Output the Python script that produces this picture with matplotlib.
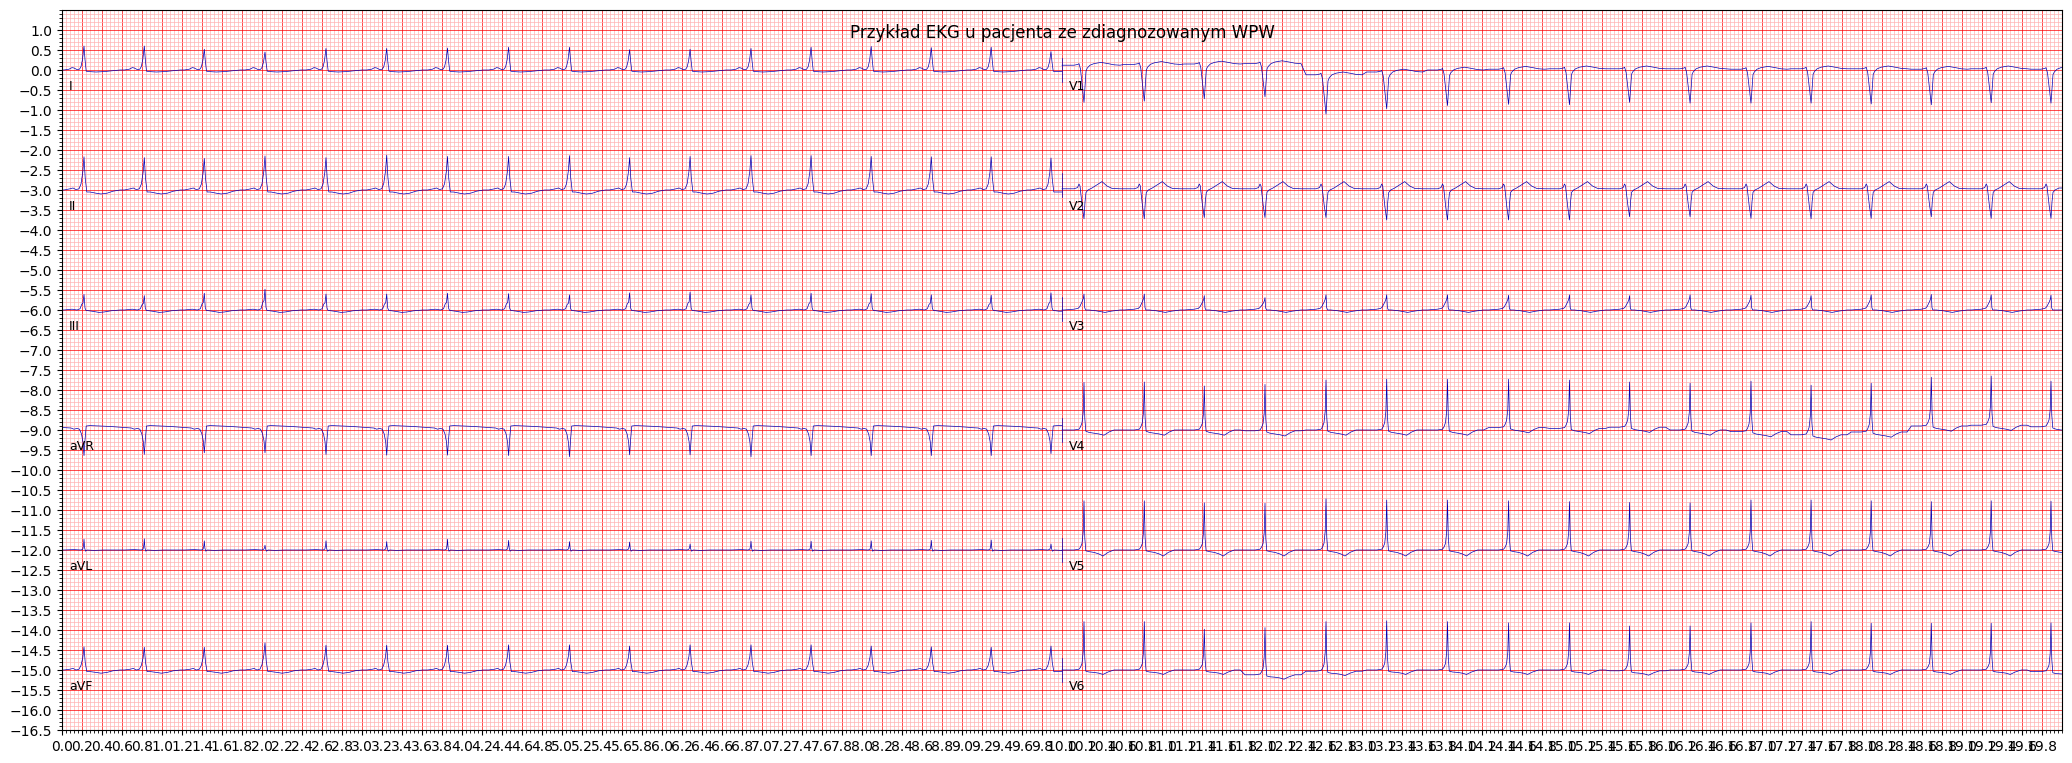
import numpy as np
import matplotlib
matplotlib.use('Agg')
import matplotlib.pyplot as plt
from matplotlib.ticker import AutoMinorLocator

title = 'Przykład EKG u pacjenta ze zdiagnozowanym WPW'
lead_names = ['I', 'II', 'III', 'aVR', 'aVL', 'aVF', 'V1', 'V2', 'V3', 'V4', 'V5', 'V6']
secs = 10.0
columns = 2
row_height = 6

# QRS times (s), shared by all leads
beat_times = [0.22, 0.823, 1.423, 2.03, 2.64, 3.247, 3.855, 4.466, 5.075, 5.676,
              6.281, 6.89, 7.491, 8.092, 8.693, 9.292, 9.89]

# per-beat QRS extreme (mV, relative to the lead's row line)
peak_I   = [0.60, 0.60, 0.52, 0.45, 0.54, 0.54, 0.55, 0.57, 0.57, 0.51, 0.52, 0.54, 0.57, 0.59, 0.56, 0.57, 0.46]
peak_II  = [0.83, 0.81, 0.79, 0.85, 0.81, 0.87, 0.84, 0.84, 0.86, 0.81, 0.84, 0.86, 0.86, 0.84, 0.83, 0.83, 0.80]
peak_III = [0.39, 0.36, 0.42, 0.52, 0.40, 0.40, 0.42, 0.41, 0.38, 0.43, 0.45, 0.38, 0.42, 0.41, 0.38, 0.37, 0.43]
peak_aVR = [-0.64, -0.61, -0.57, -0.57, -0.61, -0.63, -0.63, -0.64, -0.67, -0.62, -0.62, -0.67, -0.64, -0.64, -0.64, -0.64, -0.59]
peak_aVL = [0.27, 0.28, 0.23, 0.12, 0.23, 0.21, 0.27, 0.24, 0.21, 0.20, 0.15, 0.22, 0.22, 0.23, 0.24, 0.25, 0.15]
peak_aVF = [0.58, 0.57, 0.57, 0.68, 0.62, 0.62, 0.62, 0.63, 0.63, 0.60, 0.63, 0.63, 0.63, 0.60, 0.58, 0.57, 0.60]
peak_V1  = [-0.81, -0.78, -0.72, -0.67, -1.10, -0.97, -0.89, -0.86, -0.87, -0.81, -0.83, -0.83, -0.83, -0.85, -0.87, -0.82, -0.83]
peak_V2  = [-0.72, -0.72, -0.69, -0.69, -0.69, -0.75, -0.75, -0.75, -0.75, -0.67, -0.67, -0.71, -0.72, -0.71, -0.67, -0.71, -0.71]
peak_V3  = [0.40, 0.40, 0.36, 0.31, 0.38, 0.38, 0.38, 0.37, 0.38, 0.36, 0.38, 0.37, 0.36, 0.38, 0.39, 0.38, 0.37]
peak_V4  = [1.19, 1.20, 1.10, 1.14, 1.25, 1.27, 1.27, 1.27, 1.25, 1.20, 1.17, 1.22, 1.12, 1.17, 1.32, 1.35, 1.22]
peak_V5  = [1.23, 1.23, 1.18, 1.17, 1.28, 1.25, 1.25, 1.23, 1.21, 1.19, 1.18, 1.25, 1.25, 1.23, 1.21, 1.23, 1.22]
peak_V6  = [1.21, 1.21, 1.02, 1.06, 1.21, 1.23, 1.21, 1.18, 1.18, 1.10, 1.10, 1.18, 1.21, 1.17, 1.17, 1.17, 1.18]

# per-beat baseline level (mV)
zero17  = [0.0] * 17
base_V1 = [0.12, 0.14, 0.15, 0.16, -0.12, -0.05, 0.0, 0.02, 0.03, 0.03, 0.03, 0.02, 0.03, 0.03, 0.02, 0.03, 0.02]
base_V4 = [0.0, 0.0, 0.0, -0.02, 0.0, 0.0, 0.0, 0.06, 0.04, 0.07, 0.0, -0.04, -0.12, -0.05, 0.10, 0.12, 0.08]
base_V6 = [0.0, 0.0, 0.0, -0.12, -0.03, 0.0, 0.0, 0.0, 0.0, -0.02, 0.0, 0.0, 0.0, 0.0, 0.0, 0.0, -0.04]

# beat shapes: offsets from QRS (s), level (mV), QRS knot flag
dt_I   = [-0.20, -0.15, -0.12, -0.10, -0.07, -0.045, -0.03, -0.015, 0.0, 0.01, 0.022, 0.05, 0.12, 0.20, 0.28, 0.36]
val_I  = [0.0, 0.02, 0.06, 0.05, 0.01, 0.02, 0.08, 0.25, 0.57, 0.25, -0.03, -0.04, -0.05, -0.04, -0.02, 0.0]
qrs_I  = [0, 0, 0, 0, 0, 1, 1, 1, 1, 1, 0, 0, 0, 0, 0, 0]

dt_II  = [-0.20, -0.14, -0.11, -0.08, -0.05, -0.03, -0.012, 0.0, 0.012, 0.028, 0.06, 0.12, 0.17, 0.23, 0.29, 0.36]
val_II = [0.0, 0.03, 0.05, 0.01, 0.03, 0.15, 0.45, 0.83, 0.30, -0.05, -0.05, -0.08, -0.10, -0.08, -0.03, 0.0]
qrs_II = [0, 0, 0, 0, 1, 1, 1, 1, 1, 0, 0, 0, 0, 0, 0, 0]

dt_III  = [-0.20, -0.12, -0.07, -0.04, -0.022, -0.01, 0.0, 0.01, 0.02, 0.08, 0.15, 0.20, 0.27, 0.36]
val_III = [0.0, 0.02, 0.0, 0.03, 0.15, 0.18, 0.40, 0.05, -0.01, -0.03, -0.06, -0.05, -0.02, 0.0]
qrs_III = [0, 0, 0, 0, 1, 1, 1, 1, 0, 0, 0, 0, 0, 0]

dt_aVR  = [-0.20, -0.13, -0.10, -0.07, -0.045, -0.025, -0.01, 0.0, 0.01, 0.022, 0.06, 0.15, 0.25, 0.36]
val_aVR = [0.06, 0.05, 0.02, 0.04, 0.02, -0.10, -0.30, -0.63, -0.25, 0.10, 0.11, 0.10, 0.09, 0.07]
qrs_aVR = [0, 0, 0, 0, 0, 1, 1, 1, 1, 0, 0, 0, 0, 0]

dt_aVL  = [-0.20, -0.10, -0.03, -0.012, -0.004, 0.0, 0.006, 0.015, 0.03, 0.10, 0.20, 0.36]
val_aVL = [0.0, 0.01, 0.0, 0.02, 0.12, 0.25, 0.05, -0.03, 0.0, -0.01, 0.0, 0.0]
qrs_aVL = [0, 0, 0, 0, 1, 1, 1, 0, 0, 0, 0, 0]

dt_aVF  = [-0.20, -0.14, -0.11, -0.08, -0.05, -0.03, -0.012, 0.0, 0.012, 0.028, 0.06, 0.12, 0.17, 0.23, 0.29, 0.36]
val_aVF = [0.0, 0.02, 0.04, 0.0, 0.02, 0.12, 0.32, 0.60, 0.20, -0.04, -0.04, -0.06, -0.08, -0.06, -0.02, 0.0]
qrs_aVF = [0, 0, 0, 0, 1, 1, 1, 1, 1, 0, 0, 0, 0, 0, 0, 0]

dt_V1  = [-0.20, -0.10, -0.06, -0.05, -0.035, -0.017, 0.0, 0.01, 0.02, 0.033, 0.06, 0.10, 0.17, 0.24, 0.30, 0.36]
val_V1 = [0.0, 0.0, 0.02, 0.04, -0.10, -0.55, -0.95, -0.55, -0.15, -0.07, 0.0, 0.04, 0.07, 0.04, 0.01, 0.0]
qrs_V1 = [0, 0, 0, 0, 1, 1, 1, 1, 1, 0, 0, 0, 0, 0, 0, 0]

dt_V2  = [-0.20, -0.10, -0.065, -0.05, -0.04, -0.018, 0.0, 0.01, 0.02, 0.04, 0.08, 0.13, 0.18, 0.23, 0.28, 0.36]
val_V2 = [0.03, 0.03, 0.06, 0.15, 0.10, -0.40, -0.72, -0.30, -0.06, 0.0, 0.05, 0.13, 0.21, 0.10, 0.04, 0.03]
qrs_V2 = [0, 0, 0, 0, 0, 1, 1, 1, 1, 0, 0, 0, 0, 0, 0, 0]

dt_V3  = [-0.20, -0.10, -0.06, -0.043, -0.017, -0.006, 0.0, 0.007, 0.016, 0.05, 0.12, 0.21, 0.27, 0.36]
val_V3 = [0.0, 0.02, 0.04, 0.08, 0.22, 0.30, 0.40, 0.06, 0.0, 0.0, -0.02, -0.06, -0.03, 0.0]
qrs_V3 = [0, 0, 0, 0, 1, 1, 1, 1, 0, 0, 0, 0, 0, 0]

dt_V4  = [-0.20, -0.10, -0.05, -0.035, -0.02, -0.008, 0.0, 0.008, 0.018, 0.05, 0.10, 0.15, 0.20, 0.25, 0.30, 0.36]
val_V4 = [0.0, 0.0, 0.02, 0.08, 0.18, 0.45, 1.20, 0.30, -0.03, -0.06, -0.08, -0.10, -0.13, -0.05, 0.0, 0.0]
qrs_V4 = [0, 0, 0, 0, 1, 1, 1, 1, 0, 0, 0, 0, 0, 0, 0, 0]

dt_V5  = [-0.20, -0.10, -0.05, -0.035, -0.02, -0.008, 0.0, 0.008, 0.018, 0.05, 0.10, 0.15, 0.19, 0.24, 0.30, 0.36]
val_V5 = [0.0, 0.0, 0.02, 0.07, 0.16, 0.45, 1.22, 0.30, -0.02, -0.04, -0.06, -0.10, -0.15, -0.06, 0.0, 0.0]
qrs_V5 = [0, 0, 0, 0, 1, 1, 1, 1, 0, 0, 0, 0, 0, 0, 0, 0]

dt_V6  = [-0.20, -0.10, -0.05, -0.035, -0.02, -0.008, 0.0, 0.008, 0.018, 0.05, 0.10, 0.15, 0.19, 0.24, 0.30, 0.36]
val_V6 = [0.0, 0.0, 0.02, 0.07, 0.16, 0.45, 1.20, 0.30, -0.03, -0.05, -0.06, -0.08, -0.11, -0.05, 0.0, 0.0]
qrs_V6 = [0, 0, 0, 0, 1, 1, 1, 1, 0, 0, 0, 0, 0, 0, 0, 0]

leads = [
    (peak_I, zero17, dt_I, val_I, qrs_I),
    (peak_II, zero17, dt_II, val_II, qrs_II),
    (peak_III, zero17, dt_III, val_III, qrs_III),
    (peak_aVR, zero17, dt_aVR, val_aVR, qrs_aVR),
    (peak_aVL, zero17, dt_aVL, val_aVL, qrs_aVL),
    (peak_aVF, zero17, dt_aVF, val_aVF, qrs_aVF),
    (peak_V1, base_V1, dt_V1, val_V1, qrs_V1),
    (peak_V2, zero17, dt_V2, val_V2, qrs_V2),
    (peak_V3, zero17, dt_V3, val_V3, qrs_V3),
    (peak_V4, base_V4, dt_V4, val_V4, qrs_V4),
    (peak_V5, zero17, dt_V5, val_V5, qrs_V5),
    (peak_V6, base_V6, dt_V6, val_V6, qrs_V6),
]


def build(peaks, base, dt, val, qrs):
    dt = np.asarray(dt, float)
    val = np.asarray(val, float)
    qrs = np.asarray(qrs, bool)
    ref = val[np.argmax(np.abs(val))]
    xs, ys = [], []
    for t, b, p in zip(beat_times, base, peaks):
        s = (p - b) / ref
        xs.append(t + dt)
        ys.append(np.where(qrs, val * s, val) + b)
    x = np.concatenate(xs)
    y = np.concatenate(ys)
    keep = (x >= 0) & (x <= secs)
    x, y = x[keep], y[keep]
    x = np.concatenate([[0.0], x, [secs]])
    y = np.concatenate([[y[0]], y, [y[-1]]])
    return x, y


signals = [build(*l) for l in leads]

rows = int(np.ceil(len(lead_names) / columns))
W, H = 2072, 763
fig = plt.figure(figsize=(W / 100, H / 100), dpi=100)
ax = fig.add_axes([62 / W, 33 / H, 2000 / W, 720 / H])
fig.suptitle(title, x=1062 / W, y=0.968)

x_min, x_max = 0, columns * secs
y_min = row_height / 4 - (rows / 2) * row_height
y_max = row_height / 4

color_major = (1, 0, 0)
color_minor = (1, 0.7, 0.7)
color_line = (0, 0, 0.7)

ax.set_xticks(np.arange(x_min, x_max, 0.2))
ax.set_yticks(np.arange(y_min, y_max, 0.5))
ax.minorticks_on()
ax.xaxis.set_minor_locator(AutoMinorLocator(5))
ax.grid(which='major', linestyle='-', linewidth=0.5, color=color_major)
ax.grid(which='minor', linestyle='-', linewidth=0.5, color=color_minor)
ax.set_ylim(y_min, y_max)
ax.set_xlim(x_min, x_max)

prev = None
for c in range(columns):
    for i in range(rows):
        k = c * rows + i
        y_offset = -(row_height / 2) * i
        x_offset = secs * c
        if c > 0 and prev is not None:
            y0 = signals[prev][1][0] + y_offset
            ax.plot([x_offset, x_offset], [y0 - 0.3, y0 + 0.3], linewidth=0.5, color=color_line)
        ax.text(x_offset + 0.07, y_offset - 0.5, lead_names[k], fontsize=9)
        x, y = signals[k]
        ax.plot(x + x_offset, y + y_offset, linewidth=0.5, color=color_line)
        prev = k

fig.savefig('out.png', dpi=100)
